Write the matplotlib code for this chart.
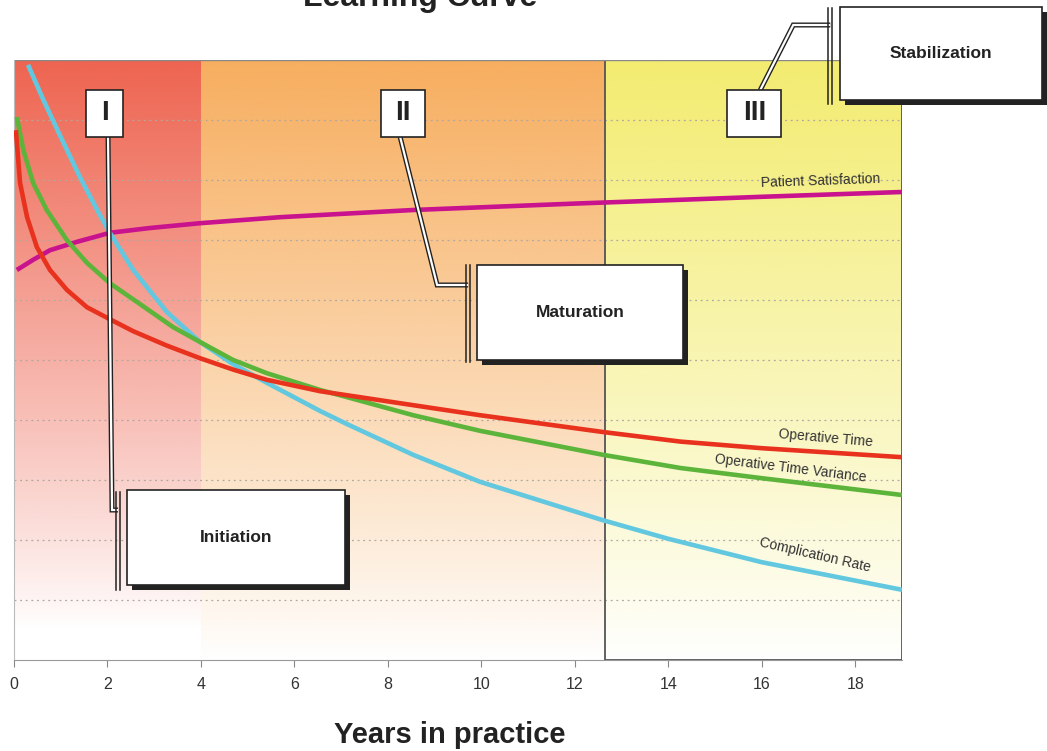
import numpy as np
import matplotlib
matplotlib.use("Agg")
import matplotlib.pyplot as plt
from matplotlib.patches import Rectangle
from matplotlib.colors import to_rgb

plt.rcParams['font.family'] = ['Liberation Sans', 'DejaVu Sans']

# --- data ---
years_ot = [0.04, 0.13, 0.28, 0.49, 0.77, 1.13, 1.56, 2.05, 2.55, 3.27, 3.98,
            4.69, 5.41, 6.55, 7.83, 9.97, 12.6, 14.26, 16.0, 19.0]
operative_time = [8.83, 7.95, 7.38, 6.88, 6.5, 6.17, 5.88, 5.68, 5.48, 5.24, 5.03,
                  4.84, 4.67, 4.48, 4.33, 4.08, 3.8, 3.64, 3.53, 3.38]

years_otv = [0.06, 0.2, 0.41, 0.7, 1.13, 1.56, 2.05, 2.7, 3.4, 3.98, 4.69, 5.41,
             6.55, 7.13, 8.54, 9.97, 12.6, 14.26, 16.0, 19.0]
op_time_variance = [9.05, 8.5, 7.95, 7.5, 7.0, 6.62, 6.28, 5.93, 5.55, 5.3, 5.0, 4.78,
                    4.5, 4.38, 4.08, 3.82, 3.42, 3.2, 3.03, 2.75]

years_cr = [0.3, 0.62, 0.98, 1.41, 1.78, 2.05, 2.55, 3.27, 3.98, 4.69, 5.41, 6.55,
            7.13, 8.54, 9.97, 12.6, 14.0, 16.0, 19.0]
complication_rate = [9.92, 9.35, 8.75, 8.05, 7.5, 7.12, 6.5, 5.8, 5.3, 4.93, 4.62, 4.15,
                     3.93, 3.42, 2.97, 2.33, 2.02, 1.63, 1.17]

years_ps = [0.06, 0.41, 0.77, 1.35, 2.05, 2.91, 3.98, 5.69, 8.54, 12.1, 14.26, 16.0, 19.0]
patient_satisfaction = [6.5, 6.67, 6.83, 6.97, 7.12, 7.2, 7.28, 7.38, 7.5, 7.61, 7.67, 7.72, 7.8]

phases = ["Initiation", "Maturation", "Stabilization"]
numerals = ["I", "II", "III"]
phase_edges = [0, 4, 12.65, 19]
xticks = [0, 2, 4, 6, 8, 10, 12, 14, 16, 18]

fig = plt.figure(figsize=(10.47, 7.51), dpi=100)
ax = fig.add_axes([14 / 1047, 91 / 751, 888 / 1047, 600 / 751])
ax.set_xlim(0, 19)
ax.set_ylim(0, 10)


def px(x, y):
    # pixel position in the picture -> data coords
    return (x - 14) / 46.72, (660 - y) / 60.0


# gradient backgrounds
def gradient(x0, x1, y0, color):
    n = 256
    rgba = np.zeros((n, 1, 4))
    rgba[:, 0, :3] = to_rgb(color)
    rgba[:, 0, 3] = np.linspace(1, 0, n) ** 0.9
    ax.imshow(rgba, extent=[x0, x1, y0, 10], aspect='auto', zorder=0,
              interpolation='bilinear')


gradient(phase_edges[0], phase_edges[1], 0.5, '#ee6450')
gradient(phase_edges[1], phase_edges[2], 0.0, '#f7ae5f')
gradient(phase_edges[2], phase_edges[3], 0.0, '#f3ec70')

for gy in range(1, 10):
    ax.axhline(gy, color='#b0a8a0', lw=0.9, ls=(0, (1.5, 3)), zorder=1)

ax.add_patch(Rectangle((phase_edges[2], 0), phase_edges[3] - phase_edges[2], 10,
                       fill=False, ec='#555555', lw=1.3, zorder=2))
ax.plot([0, 19], [10, 10], color='#888888', lw=1, zorder=2)

# curves
line_kw = dict(lw=3.3, zorder=3, solid_joinstyle='round', solid_capstyle='butt')
ax.plot(years_ps, patient_satisfaction, color='#c8128e', **line_kw)
ax.plot(years_cr, complication_rate, color='#62c8e0', **line_kw)
ax.plot(years_otv, op_time_variance, color='#5cb53a', **line_kw)
ax.plot(years_ot, operative_time, color='#e8321e', **line_kw)

# curve labels
lab_kw = dict(fontsize=10, color='#333333', ha='center', va='center', zorder=4)
ax.text(*px(820, 181), "Patient Satisfaction", rotation=2, **lab_kw)
ax.text(*px(825, 438), "Operative Time", rotation=-5, **lab_kw)
ax.text(*px(790, 468), "Operative Time Variance", rotation=-7, **lab_kw)
ax.text(*px(815, 555), "Complication Rate", rotation=-13, **lab_kw)


def box(x0, y0, x1, y1, text, size, shadow=True):
    (a, b), (c, d) = px(x0, y1), px(x1, y0)
    if shadow:
        sx, sy = 5 / 46.72, 5 / 60
        ax.add_patch(Rectangle((a + sx, b - sy), c - a, d - b, fc='#222222',
                               ec='none', zorder=6, clip_on=False))
    ax.add_patch(Rectangle((a, b), c - a, d - b, fc='white', ec='#222222',
                           lw=1.2, zorder=7, clip_on=False))
    ax.text((a + c) / 2, (b + d) / 2, text, fontsize=size, fontweight='bold',
            color='#222222', ha='center', va='center', zorder=8, clip_on=False)


def connector(points, bar_x, bar_y0, bar_y1):
    xs, ys = zip(*[px(p, q) for p, q in points])
    ax.plot(xs, ys, color='#222222', lw=3.6, zorder=5, clip_on=False,
            solid_capstyle='butt', solid_joinstyle='miter')
    ax.plot(xs, ys, color='white', lw=1.6, zorder=5, clip_on=False,
            solid_capstyle='butt', solid_joinstyle='miter')
    for bx in (bar_x - 2, bar_x + 2):
        (u, v), (_, w) = px(bx, bar_y0), px(bx, bar_y1)
        ax.plot([u, u], [v, w], color='#222222', lw=1.1, zorder=5, clip_on=False)


connector([(108, 137), (112, 510), (118, 510)], 118, 492, 590)
connector([(400, 137), (437, 285), (468, 285)], 468, 265, 362)
connector([(760, 90), (793, 25), (830, 25)], 830, 8, 104)

box(86, 90, 123, 137, numerals[0], 20, shadow=False)
box(381, 90, 425, 137, numerals[1], 20, shadow=False)
box(727, 90, 781, 137, numerals[2], 20, shadow=False)

box(127, 490, 345, 585, phases[0], 12.5)
box(477, 265, 683, 360, phases[1], 12.5)
box(840, 7, 1042, 100, phases[2], 12.5)

# axes styling
for side in ('top', 'right'):
    ax.spines[side].set_visible(False)
ax.spines['bottom'].set_color('#999999')
ax.spines['left'].set_color('#bbbbbb')
ax.set_yticks([])
ax.set_xticks(xticks)
ax.tick_params(axis='x', length=5, color='#888888', labelsize=11.5,
               labelcolor='#333333', pad=7)
for t in ax.get_xticklabels():
    t.set_family(['Liberation Sans Narrow', 'Liberation Sans'])

fig.text(450 / 1047, 1 - 735 / 751, "Years in practice", fontsize=21,
         fontweight='bold', ha='center', va='center', color='#222222',
         family=['Liberation Sans Narrow', 'Liberation Sans'])
# the title sits half off the top edge, as in the reference
fig.text(420 / 1047, 1 - 6 / 751, "Learning Curve", fontsize=23,
         fontweight='bold', ha='center', va='baseline', color='#222222')

fig.savefig("out.png", dpi=100)
